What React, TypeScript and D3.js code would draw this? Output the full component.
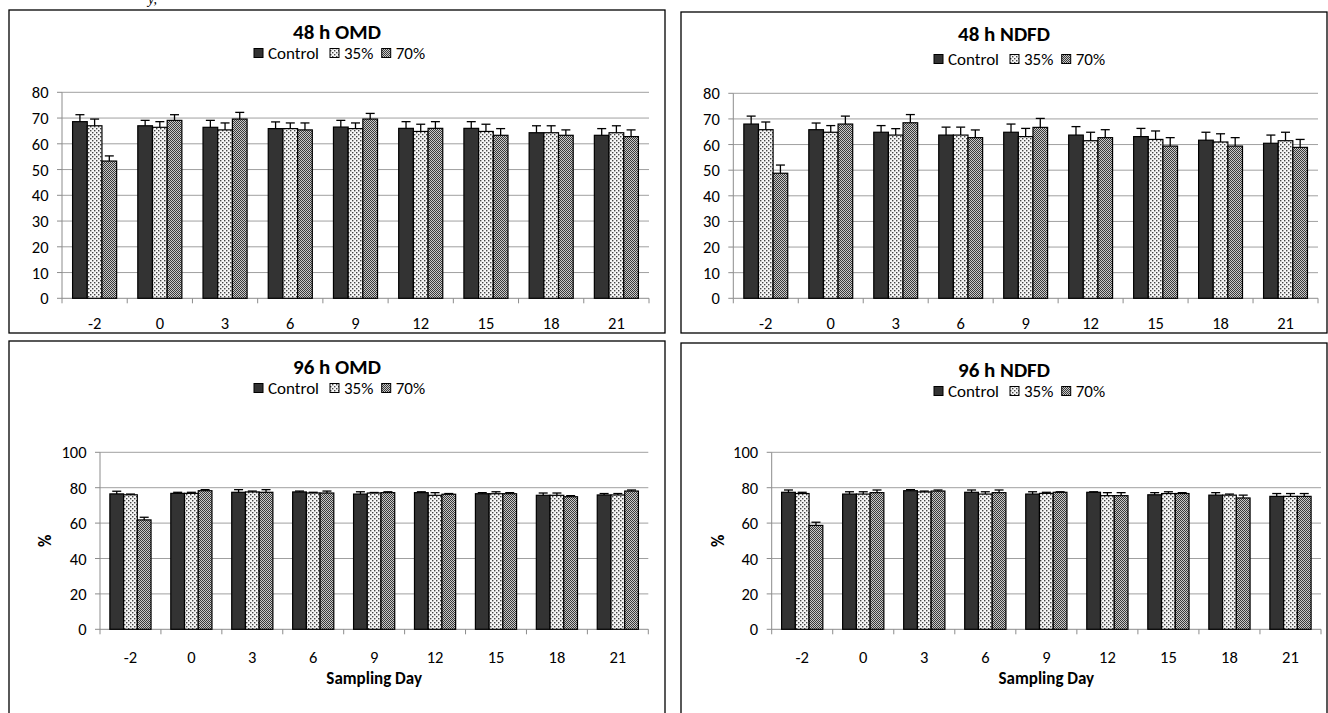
import React from "react";
import * as d3 from "d3";

const days = ["-2", "0", "3", "6", "9", "12", "15", "18", "21"];
const seriesNames = ["Control", "35%", "70%"];

// 48 h OMD
const omd48Control = [68.6, 67.0, 66.4, 65.9, 66.5, 66.0, 66.0, 64.3, 63.3];
const omd48ControlErr = [2.7, 2.1, 2.7, 2.6, 2.6, 2.6, 2.6, 2.7, 2.6];
const omd48P35 = [67.0, 66.4, 65.4, 65.9, 65.9, 64.8, 64.8, 64.3, 64.3];
const omd48P35Err = [2.6, 2.2, 2.7, 2.2, 2.2, 2.8, 2.8, 2.7, 2.7];
const omd48P70 = [53.3, 69.1, 69.6, 65.4, 69.6, 66.0, 63.3, 63.3, 62.8];
const omd48P70Err = [2.0, 2.2, 2.6, 2.7, 2.2, 2.6, 2.6, 2.1, 2.6];

// 48 h NDFD
const ndfd48Control = [68.0, 65.8, 64.8, 63.7, 64.8, 63.7, 63.1, 61.7, 60.5];
const ndfd48ControlErr = [3.1, 2.6, 2.6, 3.1, 3.2, 3.3, 3.2, 3.1, 3.2];
const ndfd48P35 = [65.8, 64.8, 63.7, 63.7, 63.1, 61.5, 62.0, 61.0, 61.5];
const ndfd48P35Err = [3.0, 2.6, 2.5, 3.1, 3.2, 3.3, 3.3, 3.2, 3.3];
const ndfd48P70 = [48.8, 68.0, 68.5, 62.7, 66.7, 62.7, 59.4, 59.4, 58.9];
const ndfd48P70Err = [3.2, 3.1, 3.2, 3.0, 3.5, 3.1, 3.3, 3.3, 3.1];

// 96 h OMD
const omd96Control = [76.5, 76.8, 77.4, 77.6, 76.4, 77.2, 76.6, 75.7, 75.9];
const omd96ControlErr = [1.5, 0.6, 1.5, 0.5, 1.3, 0.5, 0.6, 1.3, 0.8];
const omd96P35 = [76.0, 76.8, 77.6, 77.0, 77.0, 75.7, 76.6, 75.7, 75.9];
const omd96P35Err = [0.4, 0.6, 0.5, 0.4, 0.3, 1.5, 1.1, 1.3, 0.8];
const omd96P70 = [61.8, 78.3, 77.4, 77.0, 77.2, 76.3, 76.6, 74.9, 78.1];
const omd96P70Err = [1.5, 0.6, 1.5, 1.1, 0.5, 0.4, 0.6, 0.6, 0.6];

// 96 h NDFD
const ndfd96Control = [77.4, 76.4, 78.3, 77.4, 76.4, 77.4, 76.0, 75.8, 75.1];
const ndfd96ControlErr = [1.3, 1.3, 0.6, 1.3, 1.3, 0.3, 1.2, 1.4, 1.6];
const ndfd96P35 = [76.7, 76.4, 77.6, 76.4, 76.8, 75.5, 76.7, 75.8, 75.1];
const ndfd96P35Err = [0.7, 1.3, 0.5, 1.3, 0.6, 1.7, 1.0, 0.6, 1.6];
const ndfd96P70 = [58.7, 77.2, 78.1, 77.2, 77.4, 75.5, 76.7, 74.2, 75.1];
const ndfd96P70Err = [1.8, 1.5, 0.6, 1.5, 0.3, 1.7, 0.5, 1.6, 1.6];

const yTicks48 = [0, 10, 20, 30, 40, 50, 60, 70, 80];
const yTicks96 = [0, 20, 40, 60, 80, 100];

const FONT = "Carlito, Calibri, Lato, 'Open Sans', sans-serif";
const fills = ["#333333", "url(#pat35)", "url(#pat70)"];
const legendOffsets = [0, 76, 127.7];

type PanelProps = {
  title: string;
  box: { x: number; y: number; w: number; h: number };
  plot: { left: number; right: number; top: number; bottom: number };
  yTicks: number[];
  values: number[][];
  errs: number[][];
  titleY: number;
  legendY: number;
  legendX: number;
  xLabelY: number;
  showAxisTitles: boolean;
  yTitleX?: number;
  xTitleY?: number;
};

function Panel(p: PanelProps) {
  const yMax = p.yTicks[p.yTicks.length - 1];
  const y = d3.scaleLinear().domain([0, yMax]).range([p.plot.bottom, p.plot.top]);
  const x = d3.scaleBand<string>().domain(days).range([p.plot.left, p.plot.right]).paddingInner(0).paddingOuter(0);
  const inner = d3.scaleBand<string>().domain(seriesNames).range([0, x.bandwidth()]).paddingInner(0).paddingOuter(0.72);
  const bw = inner.bandwidth();
  const boundaries = days.map((d) => x(d) as number).concat([p.plot.right]);
  const cx = (p.box.x + p.box.x + p.box.w) / 2;

  return (
    <g>
      <rect x={p.box.x} y={p.box.y} width={p.box.w} height={p.box.h} fill="white" stroke="#000" strokeWidth={1.3} />
      <text x={cx} y={p.titleY} textAnchor="middle" dominantBaseline="central" fontFamily={FONT} fontWeight="bold" fontSize={21}>
        {p.title}
      </text>
      {seriesNames.map((s, i) => (
        <g key={s}>
          <rect x={p.legendX + legendOffsets[i]} y={p.legendY - 4.5} width={9} height={9} fill={fills[i]} stroke="#000" strokeWidth={1} />
          <text x={p.legendX + legendOffsets[i] + 14} y={p.legendY} dominantBaseline="central" fontFamily={FONT} fontSize={17}>
            {s}
          </text>
        </g>
      ))}
      {p.yTicks.filter((t) => t > 0).map((t) => (
        <line key={t} x1={p.plot.left} x2={p.plot.right} y1={y(t)} y2={y(t)} stroke="#a0a0a0" strokeWidth={1} />
      ))}
      <line x1={p.plot.left} x2={p.plot.left} y1={p.plot.top} y2={p.plot.bottom} stroke="#8c8c8c" strokeWidth={1} />
      {p.yTicks.map((t) => (
        <g key={t}>
          <line x1={p.plot.left - 5} x2={p.plot.left} y1={y(t)} y2={y(t)} stroke="#8c8c8c" strokeWidth={1} />
          <text x={p.plot.left - 13.5} y={y(t)} textAnchor="end" dominantBaseline="central" fontFamily={FONT} fontSize={16.5}>
            {t}
          </text>
        </g>
      ))}
      <line x1={p.plot.left} x2={p.plot.right} y1={p.plot.bottom} y2={p.plot.bottom} stroke="#8c8c8c" strokeWidth={1} />
      {boundaries.map((b, i) => (
        <line key={i} x1={b} x2={b} y1={p.plot.bottom} y2={p.plot.bottom + 5} stroke="#8c8c8c" strokeWidth={1} />
      ))}
      {days.map((d) => (
        <text key={d} x={(x(d) as number) + x.bandwidth() / 2} y={p.xLabelY} textAnchor="middle" dominantBaseline="central" fontFamily={FONT} fontSize={16.5}>
          {d}
        </text>
      ))}
      {seriesNames.map((s, si) =>
        days.map((d, di) => {
          const v = p.values[si][di];
          const e = p.errs[si][di];
          const bx = (x(d) as number) + (inner(s) as number);
          const mid = bx + bw / 2;
          return (
            <g key={s + d}>
              <rect x={bx} y={y(v)} width={bw} height={y(0) - y(v)} fill={fills[si]} stroke="#000" strokeWidth={1.2} />
              <line x1={mid} x2={mid} y1={y(v)} y2={y(v + e)} stroke="#000" strokeWidth={1.3} />
              <line x1={mid - 4.5} x2={mid + 4.5} y1={y(v + e)} y2={y(v + e)} stroke="#000" strokeWidth={1.3} />
            </g>
          );
        })
      )}
      {p.showAxisTitles && (
        <g>
          <text
            transform={`translate(${p.yTitleX},${(p.plot.top + p.plot.bottom) / 2}) rotate(-90)`}
            textAnchor="middle"
            dominantBaseline="central"
            fontFamily={FONT}
            fontWeight="bold"
            fontSize={17}
          >
            %
          </text>
          <text x={(p.plot.left + p.plot.right) / 2} y={p.xTitleY} textAnchor="middle" dominantBaseline="central" fontFamily={FONT} fontWeight="bold" fontSize={17}>
            Sampling Day
          </text>
        </g>
      )}
    </g>
  );
}

export default function App() {
  return (
    <svg width={1328} height={713} style={{ position: "absolute", left: 0, top: 0, background: "white" }}>
      <defs>
        <pattern id="pat35" width={4} height={4} patternUnits="userSpaceOnUse">
          <rect width={4} height={4} fill="#f6f6f6" />
          <rect x={0} y={0} width={1.4} height={1.4} fill="#444" />
          <rect x={2} y={2} width={1.4} height={1.4} fill="#444" />
        </pattern>
        <pattern id="pat70" width={2} height={2} patternUnits="userSpaceOnUse">
          <rect width={2} height={2} fill="#c8c8c8" />
          <rect x={0} y={0} width={1} height={1} fill="#3a3a3a" />
          <rect x={1} y={1} width={1} height={1} fill="#3a3a3a" />
        </pattern>
      </defs>
      <text x={148} y={4} fontFamily="'Liberation Serif', serif" fontSize={14} fontStyle="italic">y,</text>
      <Panel
        title="48 h OMD"
        box={{ x: 9, y: 10, w: 656, h: 323 }}
        plot={{ left: 62, right: 649, top: 92.3, bottom: 298.3 }}
        yTicks={yTicks48}
        values={[omd48Control, omd48P35, omd48P70]}
        errs={[omd48ControlErr, omd48P35Err, omd48P70Err]}
        titleY={32}
        legendY={53}
        legendX={254}
        xLabelY={323}
        showAxisTitles={false}
      />
      <Panel
        title="48 h NDFD"
        box={{ x: 681, y: 12, w: 646, h: 321 }}
        plot={{ left: 733.3, right: 1318, top: 93.3, bottom: 298.3 }}
        yTicks={yTicks48}
        values={[ndfd48Control, ndfd48P35, ndfd48P70]}
        errs={[ndfd48ControlErr, ndfd48P35Err, ndfd48P70Err]}
        titleY={34}
        legendY={59}
        legendX={934}
        xLabelY={323}
        showAxisTitles={false}
      />
      <Panel
        title="96 h OMD"
        box={{ x: 9, y: 341, w: 656, h: 390 }}
        plot={{ left: 100, right: 648.3, top: 452.3, bottom: 629.3 }}
        yTicks={yTicks96}
        values={[omd96Control, omd96P35, omd96P70]}
        errs={[omd96ControlErr, omd96P35Err, omd96P70Err]}
        titleY={367}
        legendY={388}
        legendX={254}
        xLabelY={657}
        showAxisTitles={true}
        yTitleX={45}
        xTitleY={678}
      />
      <Panel
        title="96 h NDFD"
        box={{ x: 681, y: 343, w: 646, h: 390 }}
        plot={{ left: 771.7, right: 1321, top: 452.3, bottom: 629.3 }}
        yTicks={yTicks96}
        values={[ndfd96Control, ndfd96P35, ndfd96P70]}
        errs={[ndfd96ControlErr, ndfd96P35Err, ndfd96P70Err]}
        titleY={370}
        legendY={391}
        legendX={934}
        xLabelY={657}
        showAxisTitles={true}
        yTitleX={718}
        xTitleY={678}
      />
    </svg>
  );
}
